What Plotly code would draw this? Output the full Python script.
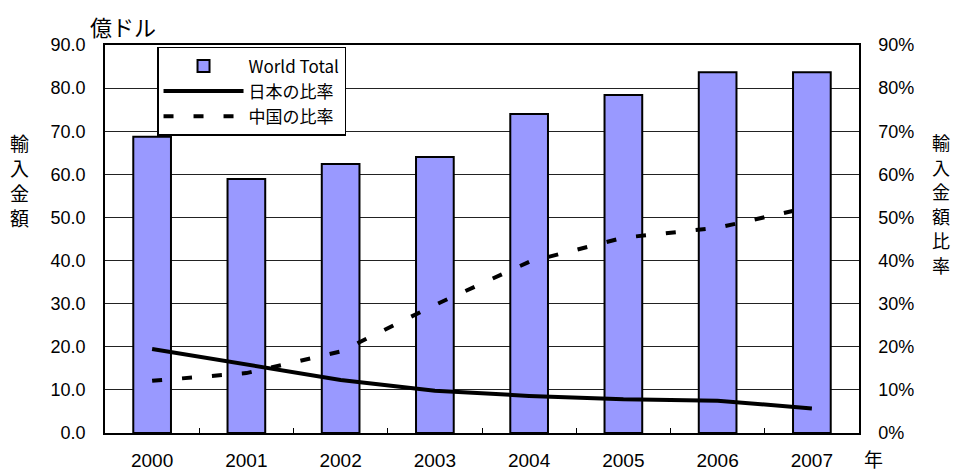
import plotly.graph_objects as go

# Import value (100 million USD) and share of imports by partner, 2000-2007
years = ["2000", "2001", "2002", "2003", "2004", "2005", "2006", "2007"]
world_total = [68.7, 58.9, 62.4, 64.0, 74.0, 78.4, 83.7, 83.7]
japan_share = [0.195, 0.158, 0.123, 0.098, 0.086, 0.078, 0.075, 0.057]
china_share = [0.121, 0.139, 0.189, 0.297, 0.397, 0.453, 0.476, 0.525]

left_ticks = [0, 10, 20, 30, 40, 50, 60, 70, 80, 90]
right_ticks = [0.0, 0.1, 0.2, 0.3, 0.4, 0.5, 0.6, 0.7, 0.8, 0.9]

left_title = "輸入金額"
right_title = "輸入金額比率"

num_font = "Liberation Sans"
jp_font = "Noto Sans CJK JP"

fig = go.Figure()

fig.add_trace(go.Bar(
    x=years, y=world_total, name="World Total",
    marker=dict(color="#9999FF", line=dict(color="black", width=2)),
    width=0.4,
))
fig.add_trace(go.Scatter(
    x=years, y=japan_share, name="日本の比率", yaxis="y2",
    mode="lines", line=dict(color="black", width=4),
))
fig.add_trace(go.Scatter(
    x=years, y=china_share, name="中国の比率", yaxis="y2",
    mode="lines", line=dict(color="black", width=4, dash="10px,20px"),
))

annotations = [
    dict(text="億ドル", xref="paper", yref="paper", x=-0.023, y=1.0,
         xanchor="left", yanchor="bottom", yshift=1, showarrow=False,
         font=dict(family=jp_font, size=22, color="black")),
    dict(text="年", xref="paper", yref="paper", x=1.0186, y=0,
         xanchor="center", yanchor="middle", yshift=-25, showarrow=False,
         borderpad=0, font=dict(family=jp_font, size=19, color="black")),
]
# vertical axis titles, one character per line
for i, ch in enumerate(left_title):
    annotations.append(dict(
        text=ch, xref="paper", yref="paper", x=-0.113, y=1.0,
        xanchor="center", yanchor="middle", yshift=-(97 + 25 * i),
        showarrow=False, font=dict(family=jp_font, size=19, color="black")))
for i, ch in enumerate(right_title):
    annotations.append(dict(
        text=ch, xref="paper", yref="paper", x=1.1087, y=1.0,
        xanchor="center", yanchor="middle", yshift=-(97 + 24.5 * i),
        showarrow=False, font=dict(family=jp_font, size=18, color="black")))

fig.update_layout(
    width=955, height=473,
    margin=dict(l=105, r=96, t=45, b=40, autoexpand=False),
    paper_bgcolor="white", plot_bgcolor="white",
    font=dict(family=num_font, size=18, color="black"),
    showlegend=True,
    legend=dict(
        x=0.069, y=0.995, xanchor="left", yanchor="top",
        bgcolor="white", bordercolor="black", borderwidth=1.5,
        font=dict(family=jp_font, size=17, color="black"),
        itemwidth=80, tracegroupgap=0,
    ),
    xaxis=dict(
        type="category", showline=True, linecolor="black", linewidth=1.5,
        mirror=True, ticks="inside", tickson="boundaries", ticklen=5,
        tickcolor="black", showgrid=False, ticklabelstandoff=9,
        automargin=False, tickfont=dict(family=num_font, size=19),
    ),
    yaxis=dict(
        range=[0, 90], tickvals=left_ticks, tickformat=".1f",
        showline=True, linecolor="black", linewidth=1.5,
        showgrid=True, gridcolor="#222222", gridwidth=1,
        ticks="", ticklabelstandoff=14, zeroline=False, automargin=False,
        tickfont=dict(family=num_font, size=18),
    ),
    yaxis2=dict(
        range=[0, 0.9], tickvals=right_ticks, tickformat=".0%",
        overlaying="y", side="right",
        showline=True, linecolor="black", linewidth=1.5,
        showgrid=False, ticks="", ticklabelstandoff=14, zeroline=False,
        automargin=False, tickfont=dict(family=num_font, size=18),
    ),
    annotations=annotations,
)

fig.write_html("out.html")
